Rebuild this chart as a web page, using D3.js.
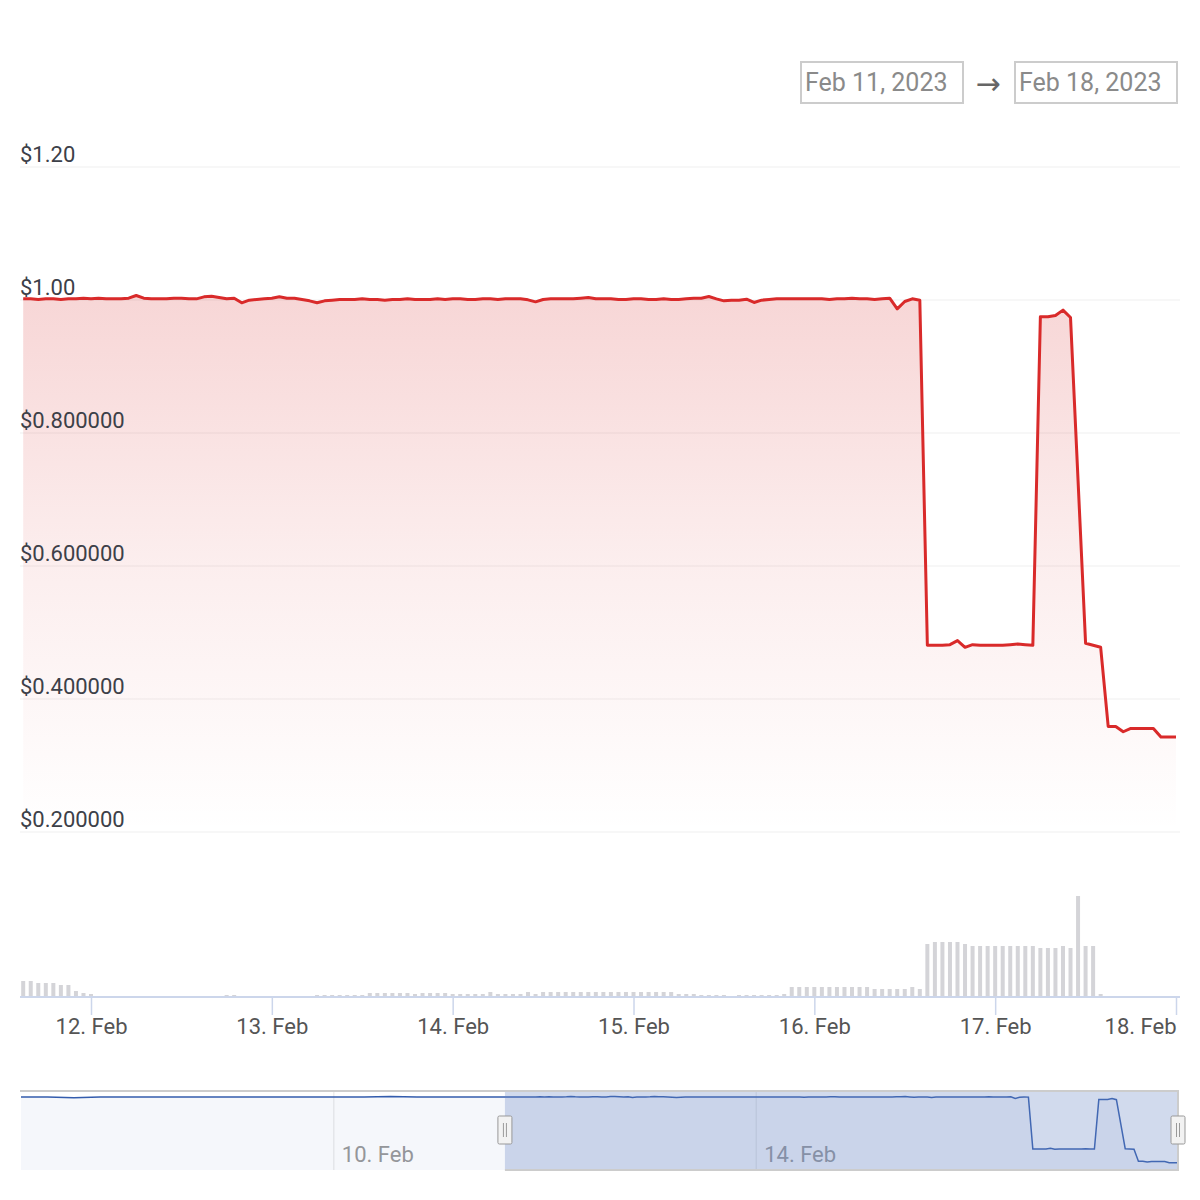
<!DOCTYPE html>
<html>
<head>
<meta charset="utf-8">
<script src="https://cdn.jsdelivr.net/npm/d3@7"></script>
<style>
  body { margin: 0; background: #fff; }
  svg { font-family: Roboto, "Noto Sans", sans-serif; }
</style>
</head>
<body>
<div id="chart"></div>
<script>
// hourly prices (USD), Feb 11 15:00 -> Feb 18 00:00 UTC
const priceStart = Date.UTC(2023, 1, 11, 15);
const prices = [
  1.001, 1.001, 1.000, 1.001, 1.001, 1.000, 1.001, 1.001, 1.002, 1.001,
  1.002, 1.001, 1.001, 1.001, 1.002, 1.006, 1.002, 1.001, 1.001, 1.001,
  1.002, 1.002, 1.001, 1.001, 1.004, 1.005, 1.003, 1.001, 1.002, 0.995,
  0.999, 1.000, 1.001, 1.002, 1.004, 1.002, 1.002, 1.000, 0.998, 0.995,
  0.998, 0.999, 1.000, 1.000, 1.000, 1.001, 1.000, 1.000, 0.999, 1.000,
  1.000, 1.001, 1.000, 1.000, 1.000, 1.001, 1.000, 1.001, 1.001, 1.000,
  1.000, 1.001, 1.001, 1.000, 1.001, 1.001, 1.001, 0.9995, 0.9965, 1.000,
  1.001, 1.001, 1.001, 1.001, 1.002, 1.003, 1.001, 1.001, 1.001, 1.000,
  1.000, 1.001, 1.001, 1.000, 1.000, 1.001, 1.000, 1.000, 1.001, 1.002,
  1.002, 1.0045, 1.001, 0.998, 0.999, 0.999, 1.0005, 0.9955, 0.999, 1.000,
  1.001, 1.001, 1.001, 1.001, 1.001, 1.001, 1.001, 1.000, 1.001, 1.001,
  1.002, 1.001, 1.001, 1.000, 1.001, 1.002, 0.986, 0.997, 1.001, 0.999,
  0.480, 0.480, 0.480, 0.481, 0.487, 0.477, 0.481, 0.480, 0.480, 0.480,
  0.480, 0.481, 0.482, 0.481, 0.480, 0.974, 0.974, 0.976, 0.984, 0.973,
  0.728, 0.483, 0.480, 0.477, 0.358, 0.358, 0.350, 0.355, 0.355, 0.355,
  0.355, 0.342, 0.342, 0.342
];
// hourly volume (USD millions), same hours as prices
const volumes = [
  1.6, 1.6, 1.4, 1.4, 1.4, 1.2, 1.2, 0.6, 0.4, 0.3,
  0, 0, 0, 0, 0, 0, 0, 0, 0, 0,
  0, 0, 0, 0, 0, 0, 0, 0.2, 0.2, 0,
  0, 0, 0, 0, 0, 0, 0, 0, 0, 0.2,
  0.2, 0.2, 0.2, 0.2, 0.2, 0.2, 0.4, 0.4, 0.4, 0.4,
  0.4, 0.4, 0.3, 0.4, 0.4, 0.4, 0.4, 0.3, 0.3, 0.3,
  0.3, 0.3, 0.5, 0.3, 0.3, 0.3, 0.3, 0.5, 0.3, 0.5,
  0.5, 0.5, 0.5, 0.5, 0.5, 0.5, 0.5, 0.5, 0.5, 0.5,
  0.5, 0.5, 0.5, 0.5, 0.5, 0.5, 0.5, 0.3, 0.3, 0.3,
  0.2, 0.2, 0.2, 0.2, 0, 0.2, 0.2, 0.2, 0.2, 0.2,
  0.2, 0.3, 1.0, 1.0, 1.0, 1.0, 1.0, 1.0, 1.0, 1.0,
  1.0, 1.0, 1.0, 0.8, 0.8, 0.8, 0.8, 0.8, 1.0, 0.8,
  5.3, 5.5, 5.5, 5.5, 5.5, 5.3, 5.1, 5.1, 5.1, 5.1,
  5.1, 5.1, 5.1, 5.1, 5.1, 4.9, 4.9, 4.9, 5.1, 4.9,
  10.1, 5.1, 5.1, 0.3, 0, 0, 0, 0, 0, 0,
  0, 0, 0, 0
];
// navigator history before the zoomed window, every 6 h from Feb 7 01:00 UTC
const navStart = Date.UTC(2023, 1, 7, 1);
const navPrices = [
  1.000, 1.000, 0.992, 1.000, 1.000, 1.001, 1.000, 1.000, 1.000, 1.001,
  1.000, 1.000, 1.000, 1.001, 1.004, 1.000, 1.000, 1.000, 1.000
];

const yTicks = [0.2, 0.4, 0.6, 0.8, 1.0, 1.2];
const yTickLabels = ["$0.200000", "$0.400000", "$0.600000", "$0.800000", "$1.00", "$1.20"];
const xTickDays = [12, 13, 14, 15, 16, 17, 18];
const navTickDays = [10, 14];
const rangeFrom = "Feb 11, 2023";
const rangeTo = "Feb 18, 2023";

const HOUR = 3600e3;
const priceData = prices.map((v, i) => ({ t: new Date(priceStart + i * HOUR), v: v }));
const volData = volumes.map((v, i) => ({ t: new Date(priceStart + i * HOUR), v: v }));
const navData = navPrices
  .map((v, i) => ({ t: new Date(navStart + i * 6 * HOUR), v: v }))
  .concat(priceData);
const priceEnd = priceData[priceData.length - 1].t;

const svg = d3.select("#chart").append("svg").attr("width", 1200).attr("height", 1200);

const x = d3.scaleUtc().domain([priceData[0].t, priceEnd]).range([23.2, 1176]);
const y = d3.scaleLinear().domain([0.2, 1.2]).range([831.5, 166.5]);
const yVol = d3.scaleLinear().domain([0, 16]).range([997, 837]);

// ---- range boxes ----
const boxes = [
  { label: rangeFrom, x: 801 },
  { label: rangeTo, x: 1015 },
];
boxes.forEach((b) => {
  svg.append("rect")
    .attr("x", b.x).attr("y", 62).attr("width", 162).attr("height", 41)
    .attr("fill", "#fff").attr("stroke", "#cccccc").attr("stroke-width", 2);
  svg.append("text")
    .attr("x", b.x + 4).attr("y", 91)
    .attr("font-size", 25).attr("fill", "#8a8a8a")
    .text(b.label);
});
svg.append("text")
  .attr("x", 988).attr("y", 94).attr("text-anchor", "middle")
  .attr("font-size", 30).attr("fill", "#666")
  .attr("font-family", "'DejaVu Sans', sans-serif")
  .text("→");

// ---- gridlines ----
const gridAxis = d3.axisLeft(y).tickValues(yTicks).tickSize(-1160).tickFormat("");
const grid = svg.append("g").attr("transform", "translate(20,0)").call(gridAxis);
grid.select(".domain").remove();
grid.selectAll(".tick line").attr("stroke", "#efefef").attr("stroke-width", 1);

// ---- price area + line ----
const defs = svg.append("defs");
const grad = defs.append("linearGradient")
  .attr("id", "priceFill")
  .attr("gradientUnits", "userSpaceOnUse")
  .attr("x1", 0).attr("x2", 0)
  .attr("y1", y(d3.max(prices))).attr("y2", y(0.2));
grad.append("stop").attr("offset", 0).attr("stop-color", "#d62828").attr("stop-opacity", 0.19);
grad.append("stop").attr("offset", 0.5).attr("stop-color", "#d62828").attr("stop-opacity", 0.08);
grad.append("stop").attr("offset", 1).attr("stop-color", "#d62828").attr("stop-opacity", 0);

const area = d3.area()
  .x((d) => x(d.t))
  .y0(y(0.2))
  .y1((d) => y(d.v));
svg.append("path").datum(priceData).attr("d", area).attr("fill", "url(#priceFill)");

const line = d3.line()
  .x((d) => x(d.t))
  .y((d) => y(d.v));
svg.append("path").datum(priceData).attr("d", line)
  .attr("fill", "none").attr("stroke", "#d92a2a").attr("stroke-width", 3)
  .attr("stroke-linejoin", "round");

// y labels sit just above their gridline
const yAxis = d3.axisRight(y).tickValues(yTicks).tickSize(0)
  .tickFormat((d, i) => yTickLabels[i]);
const yG = svg.append("g").attr("transform", "translate(20,0)").call(yAxis);
yG.select(".domain").remove();
yG.selectAll(".tick text")
  .attr("x", 0).attr("dy", -5)
  .attr("font-size", 22).attr("fill", "#3c4048")
  .attr("font-family", "Roboto, sans-serif");

// ---- volume bars ----
svg.append("g")
  .selectAll("rect")
  .data(volData.filter((d) => d.v > 0))
  .enter()
  .append("rect")
  .attr("x", (d) => x(d.t) - 2)
  .attr("y", (d) => yVol(d.v))
  .attr("width", 4)
  .attr("height", (d) => yVol(0) - yVol(d.v))
  .attr("fill", "#d4d4d8");

// ---- x axis ----
const xAxis = d3.axisBottom(x)
  .tickValues(xTickDays.map((d) => new Date(Date.UTC(2023, 1, d))))
  .tickSize(18).tickPadding(3)
  .tickFormat((d) => d.getUTCDate() + ". Feb");
const xG = svg.append("g").attr("transform", "translate(0,997)").call(xAxis);
xG.select(".domain").remove();
xG.selectAll(".tick line").attr("stroke", "#ccd6eb").attr("stroke-width", 1.5);
xG.selectAll(".tick text")
  .attr("font-size", 22).attr("fill", "#555")
  .attr("font-family", "Roboto, sans-serif")
  .attr("text-anchor", (d, i) => (i === xTickDays.length - 1 ? "end" : "middle"));
svg.append("line")
  .attr("x1", 20).attr("x2", 1180).attr("y1", 997).attr("y2", 997)
  .attr("stroke", "#ccd6eb").attr("stroke-width", 2);

// ---- navigator ----
const navTop = 1091, navBottom = 1170;
const navX = d3.scaleUtc().domain([navData[0].t, priceEnd]).range([21, 1178]);
const navY = d3.scaleLinear().domain([0.34, 1.01]).range([1163, 1096]);

const navAxis = d3.axisBottom(navX)
  .tickValues(navTickDays.map((d) => new Date(Date.UTC(2023, 1, d))))
  .tickSize(-(navBottom - navTop))
  .tickFormat((d) => d.getUTCDate() + ". Feb");
const navG = svg.append("g").attr("transform", "translate(0," + navBottom + ")").call(navAxis);
navG.select(".domain").remove();
navG.selectAll(".tick line").attr("stroke", "#e6e6e6").attr("stroke-width", 1);
navG.selectAll(".tick text")
  .attr("font-size", 22).attr("fill", "#999")
  .attr("font-family", "Roboto, sans-serif")
  .attr("text-anchor", "start")
  .attr("x", 8).attr("y", -8).attr("dy", 0);

const navArea = d3.area()
  .x((d) => navX(d.t))
  .y0(navBottom)
  .y1((d) => navY(d.v));
svg.append("path").datum(navData).attr("d", navArea)
  .attr("fill", "#335cad").attr("fill-opacity", 0.05);
svg.append("path").datum(navData).attr("d", d3.line().x((d) => navX(d.t)).y((d) => navY(d.v)))
  .attr("fill", "none").attr("stroke", "#335cad").attr("stroke-width", 1.5);

const selFrom = navX(priceData[0].t);
const selTo = navX(priceEnd);
svg.append("rect")
  .attr("x", selFrom).attr("y", navTop)
  .attr("width", selTo - selFrom).attr("height", navBottom - navTop)
  .attr("fill", "rgba(102,133,194,0.3)");
svg.append("path")
  .attr("d", `M20,${navTop}H${selTo}V${navBottom}H${selFrom}`)
  .attr("fill", "none").attr("stroke", "#cccccc").attr("stroke-width", 2);

[selFrom, selTo].forEach((hx) => {
  const h = svg.append("g").attr("transform", `translate(${hx},1130)`);
  h.append("rect")
    .attr("x", -7).attr("y", -14).attr("width", 14).attr("height", 28).attr("rx", 1.5)
    .attr("fill", "#f2f2f2").attr("stroke", "#999").attr("stroke-width", 1);
  [-1.5, 1.5].forEach((gx) => {
    h.append("line")
      .attr("x1", gx).attr("x2", gx).attr("y1", -7).attr("y2", 7)
      .attr("stroke", "#999").attr("stroke-width", 1);
  });
});
</script>
</body>
</html>
